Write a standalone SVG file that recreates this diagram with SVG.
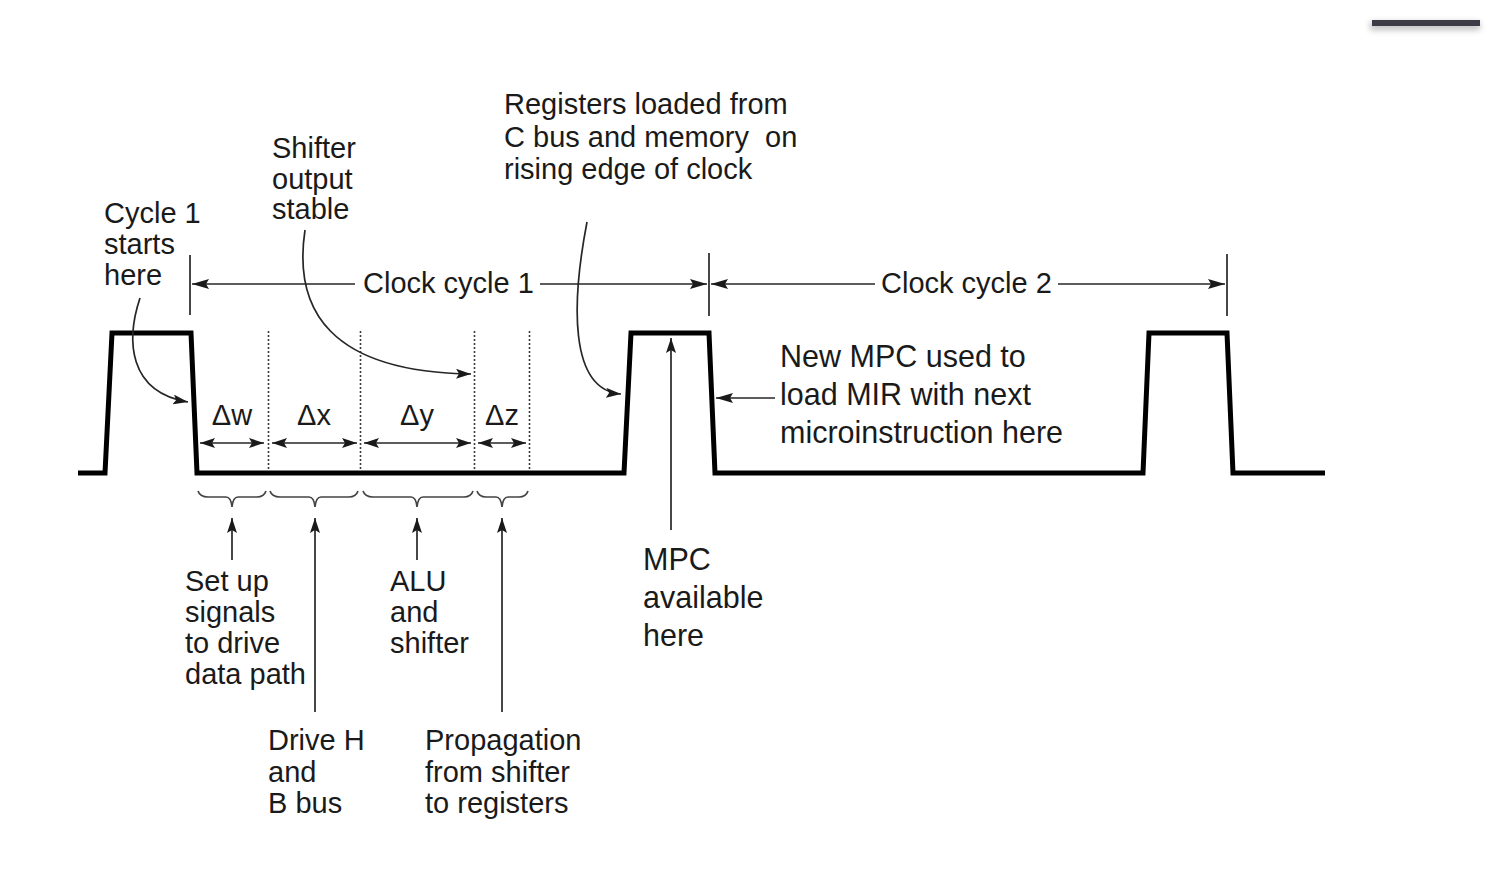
<svg xmlns="http://www.w3.org/2000/svg" width="1500" height="884" viewBox="0 0 1500 884">
  <style>
    .t { font-family: "Liberation Sans", Arial, Helvetica, sans-serif; font-size: 29px; fill: #1a1a1a; }
    .tb { font-family: "Liberation Sans", Arial, Helvetica, sans-serif; font-size: 30.5px; fill: #1a1a1a; }
    .pre { white-space: pre; }
    .ln { fill: none; stroke: #262626; stroke-width: 1.7; }
    .dot { fill: none; stroke: #3a3a3a; stroke-width: 1.6; stroke-dasharray: 2 2; }
    .br { fill: none; stroke: #444; stroke-width: 1.7; }
    .wave { fill: none; stroke: #000; stroke-width: 5; stroke-linejoin: miter; }
  </style>
  <defs>
    <marker id="ah" viewBox="0 0 17 10" refX="17" refY="5" markerWidth="17" markerHeight="10" markerUnits="userSpaceOnUse" orient="auto-start-reverse">
      <path d="M0,0 L17,5 L0,10 L3,5 z" fill="#1a1a1a"/>
    </marker>
    <marker id="as" viewBox="0 0 15 10" refX="15" refY="5" markerWidth="15" markerHeight="10" markerUnits="userSpaceOnUse" orient="auto-start-reverse">
      <path d="M0,0 L15,5 L0,10 L3,5 z" fill="#1a1a1a"/>
    </marker>
    <filter id="sh" x="-10%" y="-100%" width="120%" height="400%">
      <feGaussianBlur stdDeviation="3"/>
    </filter>
  </defs>
  <rect width="1500" height="884" fill="#ffffff"/>

  <!-- window edge artifact -->
  <g id="edge-bar">
    <rect x="1370" y="22" width="110" height="8" fill="#000" opacity="0.25" filter="url(#sh)"/>
    <rect x="1372" y="20" width="108" height="6" fill="#3c3b46"/>
  </g>

  <!-- clock waveform -->
  <g id="clock-waveform">
    <path class="wave" d="M78,473 L105,473 L112,333 L191,333 L197,473 L624,473 L631,333 L709,333 L715,473 L1143,473 L1149,333 L1227,333 L1233,473 L1325,473"/>
  </g>

  <!-- dotted interval boundaries -->
  <g id="interval-lines">
    <line class="dot" x1="268.5" y1="331" x2="268.5" y2="471"/>
    <line class="dot" x1="360.5" y1="331" x2="360.5" y2="471"/>
    <line class="dot" x1="474.5" y1="331" x2="474.5" y2="471"/>
    <line class="dot" x1="529.5" y1="331" x2="529.5" y2="471"/>
  </g>

  <g id="connectors">
    <!-- cycle ticks -->
    <line class="ln" x1="190" y1="255" x2="190" y2="315"/>
    <line class="ln" x1="709" y1="253" x2="709" y2="316"/>
    <line class="ln" x1="1227" y1="254" x2="1227" y2="316"/>
    <!-- clock cycle dimension arrows -->
    <line class="ln" x1="355" y1="284" x2="192" y2="284" marker-end="url(#ah)"/>
    <line class="ln" x1="540" y1="284" x2="707" y2="284" marker-end="url(#ah)"/>
    <line class="ln" x1="875" y1="284" x2="711" y2="284" marker-end="url(#ah)"/>
    <line class="ln" x1="1058" y1="284" x2="1225" y2="284" marker-end="url(#ah)"/>
    <!-- delta double arrows -->
    <line class="ln" x1="200" y1="443" x2="264" y2="443" marker-start="url(#as)" marker-end="url(#as)"/>
    <line class="ln" x1="272" y1="443" x2="357" y2="443" marker-start="url(#as)" marker-end="url(#as)"/>
    <line class="ln" x1="364" y1="443" x2="471" y2="443" marker-start="url(#as)" marker-end="url(#as)"/>
    <line class="ln" x1="478" y1="443" x2="526" y2="443" marker-start="url(#as)" marker-end="url(#as)"/>
    <!-- braces -->
    <path class="br" d="M198,491 Q200,497 208,497 L226,497 Q231,497 232,507 Q233,497 238,497 L257,497 Q264,497 266,491"/>
    <path class="br" d="M270,491 Q272,497 280,497 L309,497 Q314,497 315,507 Q316,497 321,497 L349,497 Q356,497 358,491"/>
    <path class="br" d="M363,491 Q365,497 373,497 L411,497 Q416,497 417,507 Q418,497 423,497 L464,497 Q471,497 473,491"/>
    <path class="br" d="M477,491 Q479,497 486,497 L496,497 Q501,497 502,507 Q503,497 508,497 L519,497 Q526,497 528,491"/>
    <!-- label pointers to braces -->
    <line class="ln" x1="232" y1="560" x2="232" y2="518" marker-end="url(#as)"/>
    <line class="ln" x1="315" y1="712" x2="315" y2="518" marker-end="url(#as)"/>
    <line class="ln" x1="417" y1="560" x2="417" y2="518" marker-end="url(#as)"/>
    <line class="ln" x1="502" y1="712" x2="502" y2="518" marker-end="url(#as)"/>
    <!-- MPC available -->
    <line class="ln" x1="671" y1="530" x2="671" y2="338" marker-end="url(#as)"/>
    <!-- New MPC -->
    <line class="ln" x1="775" y1="398" x2="716" y2="398" marker-end="url(#ah)"/>
    <!-- curved pointers -->
    <path class="ln" d="M140,298 C126,340 128,392 188,402" marker-end="url(#as)"/>
    <path class="ln" d="M305,230 C293,310 330,372 471,374" marker-end="url(#as)"/>
    <path class="ln" d="M587,222 C572,300 568,390 621,394" marker-end="url(#as)"/>
  </g>

  <g id="label-cycle1-starts">
    <text class="t" x="104" y="223">Cycle 1</text>
    <text class="t" x="104" y="254">starts</text>
    <text class="t" x="104" y="285">here</text>
  </g>
  <g id="label-shifter-stable">
    <text class="t" x="272" y="158">Shifter</text>
    <text class="t" x="272" y="189">output</text>
    <text class="t" x="272" y="219">stable</text>
  </g>
  <g id="label-registers-loaded">
    <text class="t" x="504" y="114">Registers loaded from</text>
    <text class="t pre" x="504" y="147" xml:space="preserve">C bus and memory  on</text>
    <text class="t" x="504" y="179">rising edge of clock</text>
  </g>
  <g id="label-clock-cycle-1">
    <text class="t" x="363" y="293">Clock cycle 1</text>
  </g>
  <g id="label-clock-cycle-2">
    <text class="t" x="881" y="293">Clock cycle 2</text>
  </g>
  <g id="label-deltas">
    <text class="t" x="232" y="425" text-anchor="middle">Δw</text>
    <text class="t" x="314" y="425" text-anchor="middle">Δx</text>
    <text class="t" x="417" y="425" text-anchor="middle">Δy</text>
    <text class="t" x="502" y="425" text-anchor="middle">Δz</text>
  </g>
  <g id="label-new-mpc">
    <text class="tb" x="780" y="367">New MPC used to</text>
    <text class="tb" x="780" y="405">load MIR with next</text>
    <text class="tb" x="780" y="443">microinstruction here</text>
  </g>
  <g id="label-mpc-available">
    <text class="tb" x="643" y="570">MPC</text>
    <text class="tb" x="643" y="608">available</text>
    <text class="tb" x="643" y="646">here</text>
  </g>
  <g id="label-setup">
    <text class="t" x="185" y="591">Set up</text>
    <text class="t" x="185" y="622">signals</text>
    <text class="t" x="185" y="653">to drive</text>
    <text class="t" x="185" y="684">data path</text>
  </g>
  <g id="label-alu">
    <text class="t" x="390" y="591">ALU</text>
    <text class="t" x="390" y="622">and</text>
    <text class="t" x="390" y="653">shifter</text>
  </g>
  <g id="label-drive-h">
    <text class="t" x="268" y="750">Drive H</text>
    <text class="t" x="268" y="782">and</text>
    <text class="t" x="268" y="813">B bus</text>
  </g>
  <g id="label-propagation">
    <text class="t" x="425" y="750">Propagation</text>
    <text class="t" x="425" y="782">from shifter</text>
    <text class="t" x="425" y="813">to registers</text>
  </g>
</svg>
